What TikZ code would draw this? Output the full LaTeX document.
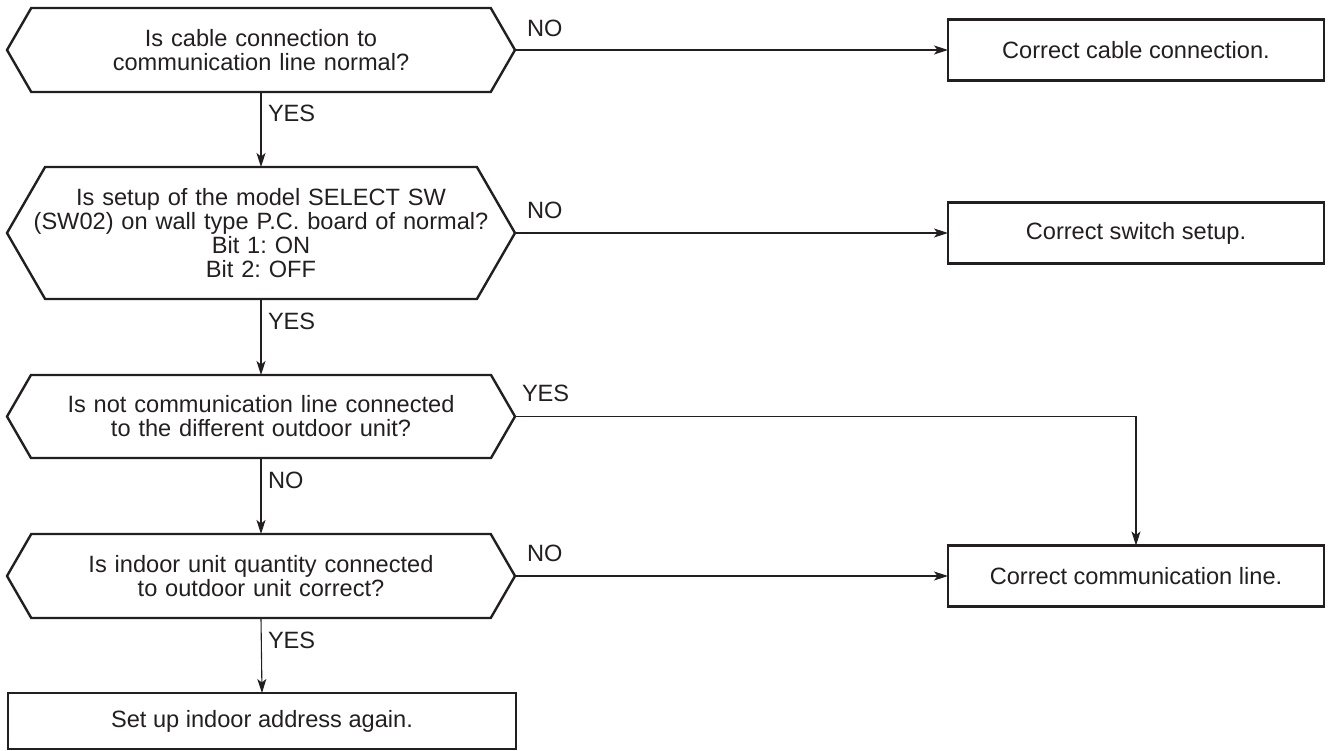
\documentclass[tikz,border=0pt]{standalone}
\usepackage{fontspec}
\setmainfont{Liberation Sans}
\usetikzlibrary{arrows.meta,calc}
\definecolor{ink}{HTML}{231F20}
\frenchspacing
\newcommand{\hexframe}[1]{%
  \draw[frame] let \p1=(#1.north), \p2=(#1.center), \n1={(\y1-\y2)*0.5774} in
    (#1.west) -- ([xshift=\n1]#1.north west) -- ([xshift=-\n1]#1.north east)
    -- (#1.east) -- ([xshift=-\n1]#1.south east) -- ([xshift=\n1]#1.south west) -- cycle;}
\begin{document}
\begin{tikzpicture}[x=1pt,y=-1pt,
  every node/.style={font=\fontsize{23.6}{24}\selectfont\frenchspacing, text=ink, inner sep=0pt, outer sep=0pt},
  frame/.style={draw=ink, line width=2.4pt, line join=miter},
  decision/.style={minimum width=508pt, align=center, text width=470pt},
  actbox/.style={frame, minimum width=376pt, minimum height=61pt, align=center},
  conn/.style={draw=ink, line width=1.1pt, -{Stealth[length=14pt,width=9pt,inset=3.5pt]}},
  lbl/.style={anchor=west}]
\useasboundingbox (0,0) rectangle (1328,751);

% decisions
\node[decision, minimum height=84pt]  (d1) at (261,50)   {Is cable connection to\\communication line normal?};
\node[decision, minimum height=132pt] (d2) at (261,233)  {Is setup of the model SELECT SW\\(SW02) on wall type P.C. board of normal?\\Bit 1: ON\\Bit 2: OFF};
\node[decision, minimum height=83pt]  (d3) at (261,416.5){Is not communication line connected\\to the different outdoor unit?};
\node[decision, minimum height=84pt]  (d4) at (261,576)  {Is indoor unit quantity connected\\to outdoor unit correct?};
\hexframe{d1}
\hexframe{d2}
\hexframe{d3}
\hexframe{d4}

% action boxes
\node[actbox] (b1) at (1136,50)  {Correct cable connection.};
\node[actbox] (b2) at (1136,233) {Correct switch setup.};
\node[actbox] (b3) at (1136,576) {Correct communication line.};
\node[frame, minimum width=508pt, minimum height=56pt] (b4) at (262,721) {Set up indoor address again.};

% connectors
\draw[conn] (d1.east) -- (b1.west);
\draw[conn] (d2.east) -- (b2.west);
\draw[conn] (d4.east) -- (b3.west);
\draw[conn] (d3.east) -| (b3.north);
\draw[conn] (d1.south) -- (d2.north);
\draw[conn] (d2.south) -- (d3.north);
\draw[conn] (d3.south) -- (d4.north);
\draw[conn] (d4.south) -- (b4.north);

% labels
\node[lbl] (n1) at (527,28)  {NO};
\node[lbl] (n2) at (527,210) {NO};
\node[lbl] (y3) at (522,393) {YES};
\node[lbl] (n4) at (527,553) {NO};
\node[lbl] (y1) at (268,113) {YES};
\node[lbl] (y2) at (268,321) {YES};
\node[lbl] (n3) at (268,480) {NO};
\node[lbl] (y4) at (268,640) {YES};
\end{tikzpicture}
\end{document}
